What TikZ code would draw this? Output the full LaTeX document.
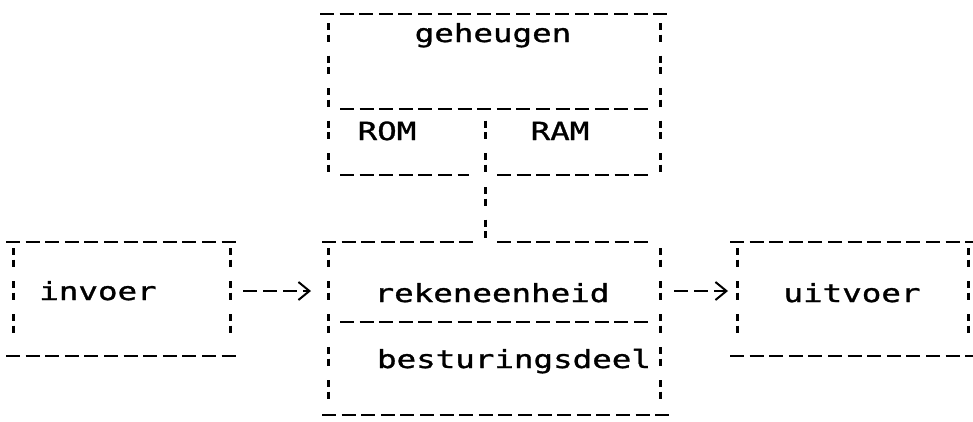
\documentclass[tikz,border=0pt]{standalone}
\usepackage{fontspec}
\newfontfamily\dotfont[FakeStretch=1.3,FakeBold=1.2]{DejaVu Sans Mono}
\usetikzlibrary{arrows.meta}
\tikzset{
  hline/.style={line width=2.3pt, dash pattern=on 14pt off 5.6pt},
  vline/.style={line width=3pt, dash pattern=on 7pt off 4.5pt on 7pt off 14pt},
  vlinelow/.style={line width=3pt, dash pattern=on 7pt off 4.5pt on 7pt off 14.5pt},
  lbl/.style={font=\dotfont\fontsize{25}{25}\selectfont, inner sep=0pt, anchor=base},
  frame/.style={draw=none, inner sep=0pt, outer sep=0pt, rectangle},
  flow/.style={line width=2.3pt, dash pattern=on 14pt off 6pt,
    -{Straight Barb[length=11pt,width=18pt,line width=2pt]}},
}
\begin{document}
\begin{tikzpicture}[x=1pt,y=-1pt]
\fill[white] (0,0) rectangle (973,421);
\useasboundingbox (0,0) rectangle (973,421);

% frame nodes (areas of the boxes)
\node[frame, minimum width=332pt, minimum height=161pt] (gh) at (494,94.5) {};
\node[frame, minimum width=332pt, minimum height=173pt] (rk) at (494,328.5) {};
\node[frame, minimum width=217pt, minimum height=114pt] (inv) at (121.5,299) {};
\node[frame, minimum width=231pt, minimum height=114pt] (ut) at (852.5,299) {};

% texts
\node[lbl] (tgh)  at (493,42)  {geheugen};
\node[lbl] (trom) at (387,140) {ROM};
\node[lbl] (tram) at (560,140) {RAM};
\node[lbl] (tinv) at (98,300)  {invoer};
\node[lbl] (trk)  at (492,302) {rekeneenheid};
\node[lbl] (tbd)  at (514,368) {besturingsdeel};
\node[lbl] (tut)  at (852,302) {uitvoer};

% geheugen box
\draw[hline] (320,14) -- (670,14);
\draw[vline] (328,23) -- (328,175);
\draw[vline] (660,23) -- (660,175);
\draw[hline] (340,109) -- (648,109);
\draw[vline] (485,120.5) -- (485,175);
\draw[hline] (340,175) -- (469,175);
\draw[hline] (497,175) -- (648,175);

% rekeneenheid / besturingsdeel box
\draw[hline] (322,242) -- (474,242);
\draw[hline] (497,242) -- (648,242);
\draw[vlinelow] (328,248) -- (328,400);
\draw[vlinelow] (660,248) -- (660,400);
\draw[hline] (340,322) -- (648,322);
\draw[hline] (322,415) -- (670,415);

% invoer box
\draw[hline] (6,242) -- (240,242);
\draw[hline] (6,356) -- (240,356);
\draw[vlinelow] (13,248) -- (13,336);
\draw[vlinelow] (230,248) -- (230,336);

% uitvoer box
\draw[hline] (730,242) -- (973,242);
\draw[hline] (730,356) -- (973,356);
\draw[vlinelow] (737,248) -- (737,336);
\draw[vlinelow] (968,248) -- (968,336);

% connectors
\coordinate (div) at (485,175);
\coordinate (lvl) at (0,291);
\draw[vline, shorten <=12pt, shorten >=4pt] (div) -- (div |- rk.north);
\draw[flow, shorten <=13pt, shorten >=17pt] (inv.east |- lvl) -- (rk.west |- lvl);
\draw[flow, shorten <=14pt, shorten >=9pt] (rk.east |- lvl) -- (ut.west |- lvl);
\end{tikzpicture}
\end{document}
